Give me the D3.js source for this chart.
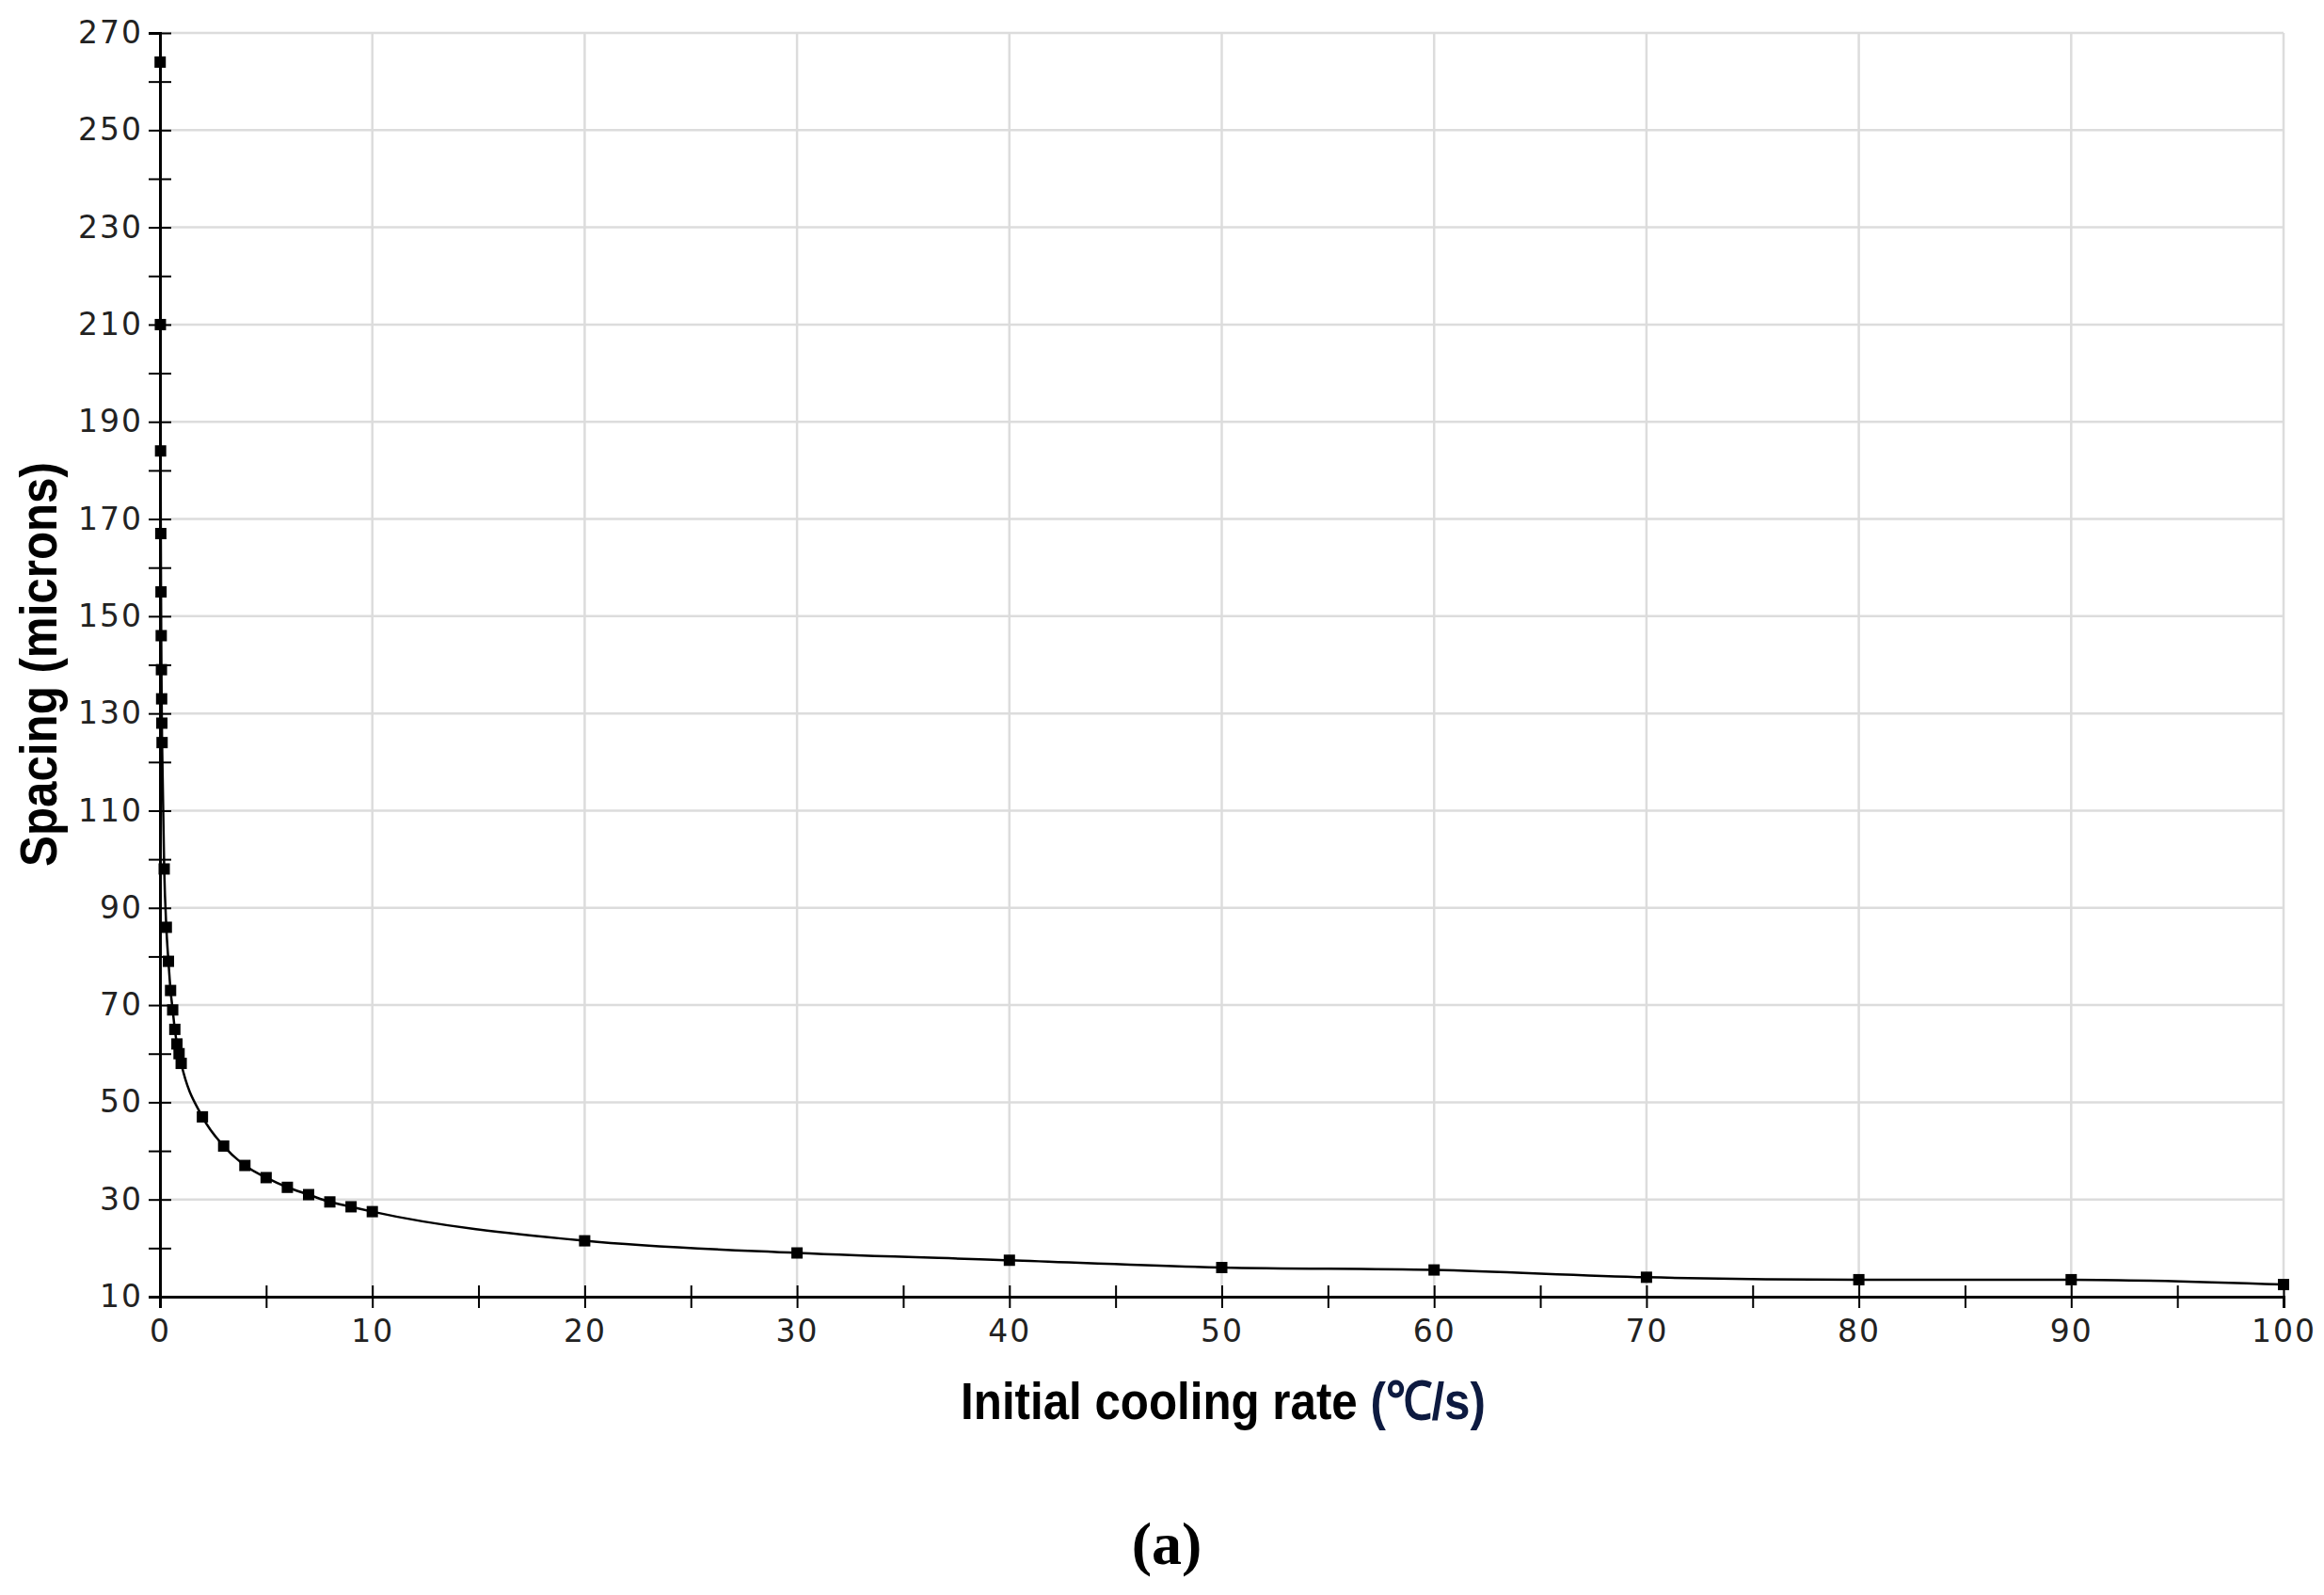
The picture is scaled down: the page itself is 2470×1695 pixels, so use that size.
<!DOCTYPE html>
<html><head><meta charset="utf-8">
<script src="https://cdn.jsdelivr.net/npm/d3@7"></script>
<style>body{margin:0;background:#fff}</style></head>
<body><svg id="c" width="2470" height="1695"></svg>
<script>
const rate = [0.01,0.02,0.03,0.04,0.05,0.06,0.07,0.08,0.09,0.1,0.2,0.3,0.4,0.5,0.6,0.7,0.8,0.9,1,2,3,4,5,6,7,8,9,10,20,30,40,50,60,70,80,90,100];
const spacing = [264,210,184,167,155,146,139,133,128,124,98,86,79,73,69,65,62,60,58,47,41,37,34.5,32.5,31,29.5,28.5,27.5,21.5,19,17.5,16,15.5,14,13.5,13.5,12.5];
const yTickLabels = [10,30,50,70,90,110,130,150,170,190,210,230,250,270];
const xTickLabels = [0,10,20,30,40,50,60,70,80,90,100];

const svg = d3.select("#c");
const L=170,R=2427,T=35,B=1378;
const x = d3.scaleLinear().domain([0,100]).range([L,R]);
const y = d3.scaleLinear().domain([10,270]).range([B,T]);
const g = svg.append("g");
g.selectAll(".gy").data(yTickLabels.slice(1)).join("line")
 .attr("x1",L).attr("x2",R).attr("y1",d=>y(d)).attr("y2",d=>y(d)).attr("stroke","#dcdcdc").attr("stroke-width",2.5);
g.selectAll(".gx").data(xTickLabels.slice(1)).join("line")
 .attr("y1",T).attr("y2",B).attr("x1",d=>x(d)).attr("x2",d=>x(d)).attr("stroke","#dcdcdc").attr("stroke-width",2.5);
const font="DejaVu Sans";
const ya = svg.append("g").attr("transform",`translate(${L},0)`)
 .call(d3.axisLeft(y).tickValues(d3.range(10,271,10)).tickSize(12).tickFormat(d=>yTickLabels.includes(d)?d:""));
ya.selectAll("line").attr("x1",-12).attr("x2",12).attr("stroke-width",2);
ya.select(".domain").attr("stroke-width",3);
ya.selectAll("text").attr("font-family",font).attr("font-size",33).attr("fill","#222").attr("x",-18).attr("letter-spacing",2);
const xa = svg.append("g").attr("transform",`translate(0,${B})`)
 .call(d3.axisBottom(x).tickValues(d3.range(0,101,5)).tickSize(12).tickFormat(d=>xTickLabels.includes(d)?d:""));
xa.selectAll("line").attr("y1",-12).attr("y2",12).attr("stroke-width",2);
xa.select(".domain").attr("stroke-width",3);
xa.selectAll("text").attr("font-family",font).attr("font-size",33).attr("fill","#222").attr("dy","1.0em").attr("letter-spacing",2);
svg.append("path").datum(rate.map((r,i)=>[r,spacing[i]]))
 .attr("d",d3.line().curve(d3.curveMonotoneX).x(d=>x(d[0])).y(d=>y(d[1]))).attr("fill","none").attr("stroke","#000").attr("stroke-width",2.5);
svg.selectAll(".m").data(rate).join("rect")
 .attr("x",(d)=>x(d)-6).attr("y",(d,i)=>y(spacing[i])-6).attr("width",12).attr("height",12).attr("fill","#000");
const tf="'Liberation Sans',sans-serif";
svg.append("text").attr("transform","translate(60,706) rotate(-90) scale(0.88,1)").attr("text-anchor","middle")
 .attr("font-family",tf).attr("font-weight","bold").attr("font-size",56).text("Spacing (microns)");
const xt=svg.append("text").attr("transform","translate(1300,1508) scale(0.88,1)").attr("text-anchor","middle")
 .attr("font-family",tf).attr("font-weight","bold").attr("font-size",56);
xt.append("tspan").text("Initial cooling rate ");
xt.append("tspan").attr("fill","#0d1a40").text("(℃/s)");
svg.append("text").attr("x",1240).attr("y",1662).attr("text-anchor","middle")
 .attr("font-family","'Liberation Serif',serif").attr("font-weight","bold").attr("font-size",64).text("(a)");
</script></body></html>
